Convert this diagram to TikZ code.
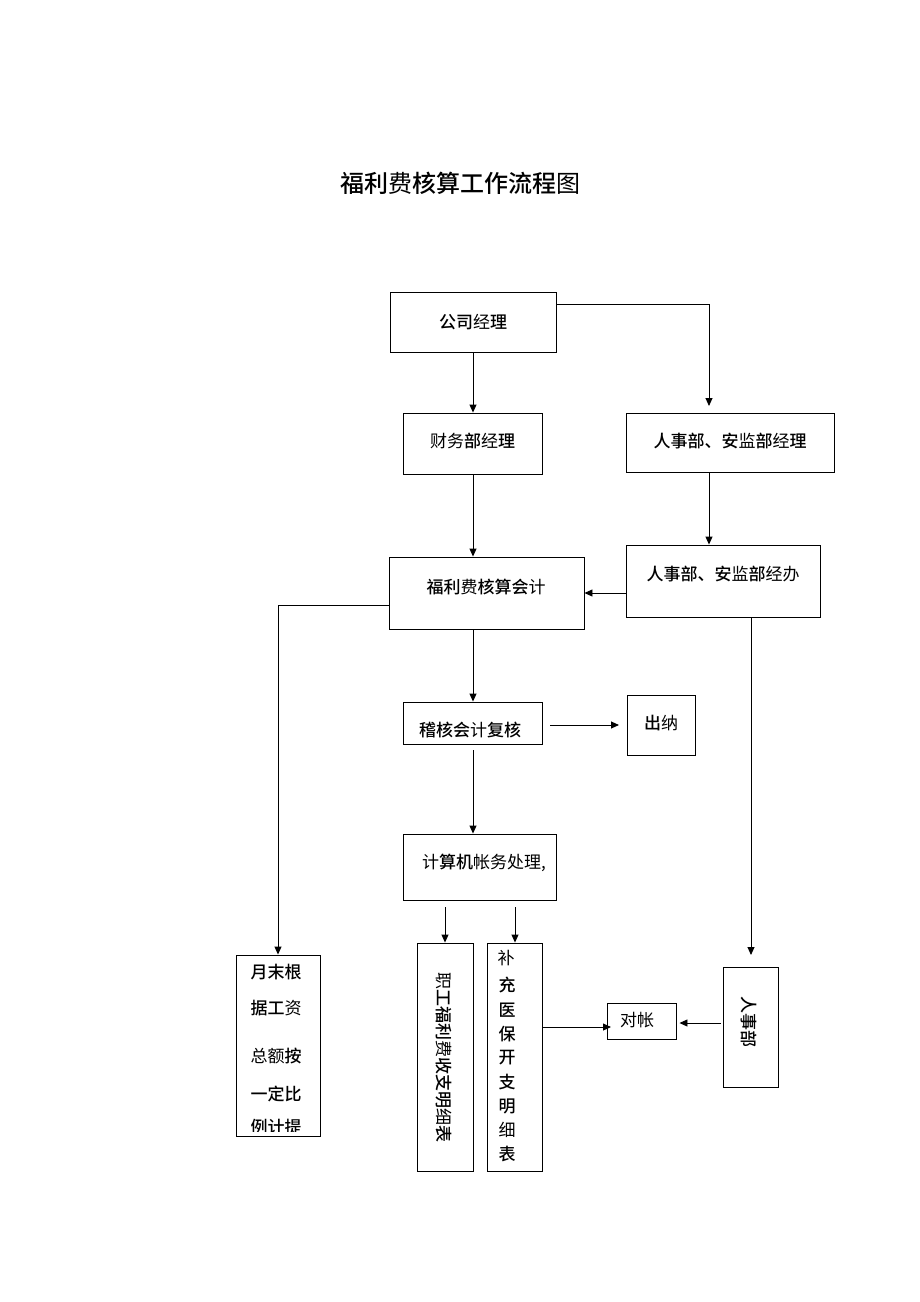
\documentclass[tikz,border=0pt]{standalone}
\usepackage{fontspec}
\newfontfamily\cjk{Noto Sans CJK SC}[BoldFont={Noto Sans CJK SC Medium}]
\usetikzlibrary{arrows.meta}
\newcommand{\bd}[1]{{\bfseries #1}}
\tikzset{
  box/.style={draw, line width=0.9pt, rectangle, inner sep=0pt},
  lbl/.style={font=\cjk\fontsize{17}{20}\selectfont, inner sep=0pt},
  arr/.style={line width=0.9pt, -{Triangle[length=8pt,width=7pt]}},
  ln/.style={line width=0.9pt}
}
\begin{document}
\begin{tikzpicture}[x=1pt,y=-1pt]
\useasboundingbox (0,0) rectangle (920,1302);
% title
\node[font=\cjk\fontsize{24}{28}\selectfont, inner sep=0pt] (title) at (460,183) {\bd{福利}费\bd{核算工作流程}图};
% boxes
\node[box, minimum width=166pt, minimum height=60pt] (mgr) at (473,322) {};
\node[lbl] (mgr-t) at (473,322) {\bd{公司}经\bd{理}};
\node[box, minimum width=139pt, minimum height=61pt] (fin) at (472.5,443.5) {};
\node[lbl] (fin-t) at (472.5,441) {财务\bd{部}经\bd{理}};
\node[box, minimum width=208pt, minimum height=59pt] (hrm) at (730,442.5) {};
\node[lbl] (hrm-t) at (730,441) {\bd{人事部、安}监\bd{部}经\bd{理}};
\node[box, minimum width=195pt, minimum height=72pt] (acct) at (486.5,593) {};
\node[lbl] (acct-t) at (486,587) {\bd{福利}费\bd{核算会}计};
\node[box, minimum width=194pt, minimum height=72pt] (hro) at (723,581) {};
\node[lbl] (hro-t) at (723,574) {\bd{人事部、安}监\bd{部}经办};
\node[box, minimum width=139pt, minimum height=42pt] (audit) at (472.5,723) {};
\node[lbl] (audit-t) at (470,730) {\bd{稽核会}计\bd{复核}};
\node[box, minimum width=68pt, minimum height=60pt] (cash) at (661,725) {};
\node[lbl] (cash-t) at (661,723) {\bd{出}纳};
\node[box, minimum width=153pt, minimum height=66pt] (comp) at (479.5,867) {};
\node[lbl] (comp-t) at (484,863) {计\bd{算机}帐务处理,};
\node[box, minimum width=84pt, minimum height=181pt] (month) at (278,1045.5) {};
\node[lbl] (m1) at (276,972) {\bd{月末根}};
\node[lbl] (m2) at (276,1008) {\bd{据工}资};
\node[lbl] (m3) at (276,1056) {总额\bd{按}};
\node[lbl] (m4) at (276,1094) {\bd{一定比}};
\begin{scope}
\clip (237,1100) rectangle (319,1131);
\node[lbl] (m5) at (276,1127) {\bd{例计提}};
\end{scope}
\node[box, minimum width=56pt, minimum height=228pt] (d1) at (445,1057) {};
\node[lbl, rotate=-90] (d1-t) at (444,1057) {职\bd{工福利}费\bd{收支明}细\bd{表}};
\node[box, minimum width=55pt, minimum height=228pt] (d2) at (514.5,1057) {};
\node[lbl] (d2a) at (506,958) {补};
\node[lbl] (d2b) at (507,985) {\bd{充}};
\node[lbl] (d2c) at (507,1010) {\bd{医}};
\node[lbl] (d2d) at (507,1034) {\bd{保}};
\node[lbl] (d2e) at (507,1058) {\bd{开}};
\node[lbl] (d2f) at (507,1082) {\bd{支}};
\node[lbl] (d2g) at (507,1106) {\bd{明}};
\node[lbl] (d2h) at (507,1130) {细};
\node[lbl] (d2i) at (507,1154) {\bd{表}};
\node[box, minimum width=69pt, minimum height=36pt] (recon) at (641.5,1021) {};
\node[lbl] (recon-t) at (637,1020) {对帐};
\node[box, minimum width=55pt, minimum height=120pt] (hr) at (750.5,1027) {};
\node[lbl, rotate=-90] (hr-t) at (749,1022) {\bd{人事部}};
% helper coordinates
\coordinate (hrmtip) at (709,406);
\coordinate (c709) at (709,0);
\coordinate (c593) at (0,593);
\coordinate (c605) at (0,605);
\coordinate (c473) at (473,0);
\coordinate (auds) at (550,725);
\coordinate (caste) at (619,725);
\coordinate (audb) at (473,750);
\coordinate (hrotip) at (751,955);
\coordinate (c751) at (751,0);
\coordinate (cs1) at (445,907);
\coordinate (cs2) at (515,907);
\coordinate (recte) at (611,1027);
\coordinate (hrs) at (721,1023);
% connectors
\draw[arr] (mgr.south -| c473) -- (fin.north -| c473);
\draw[arr] ([yshift=18pt]mgr.east) -| (hrmtip);
\draw[arr] (hrm.south -| c709) -- (hro.north -| c709);
\draw[arr] (fin.south -| c473) -- (acct.north -| c473);
\draw[arr] (hro.west |- c593) -- (acct.east |- c593);
\draw[arr] (acct.south -| c473) -- (audit.north -| c473);
\draw[arr] (auds) -- (caste);
\draw[arr] (audb) -- (comp.north -| c473);
\draw[arr] (acct.west |- c605) -| (month.north);
\draw[arr] (hro.south -| c751) -- (hrotip);
\draw[arr] (cs1) -- (d1.north -| cs1);
\draw[arr] (cs2) -- (d2.north -| cs2);
\draw[arr] (d2.east |- recte) -- (recte);
\draw[arr] (hrs) -- ([xshift=3pt]recon.east |- hrs);
\end{tikzpicture}
\end{document}
